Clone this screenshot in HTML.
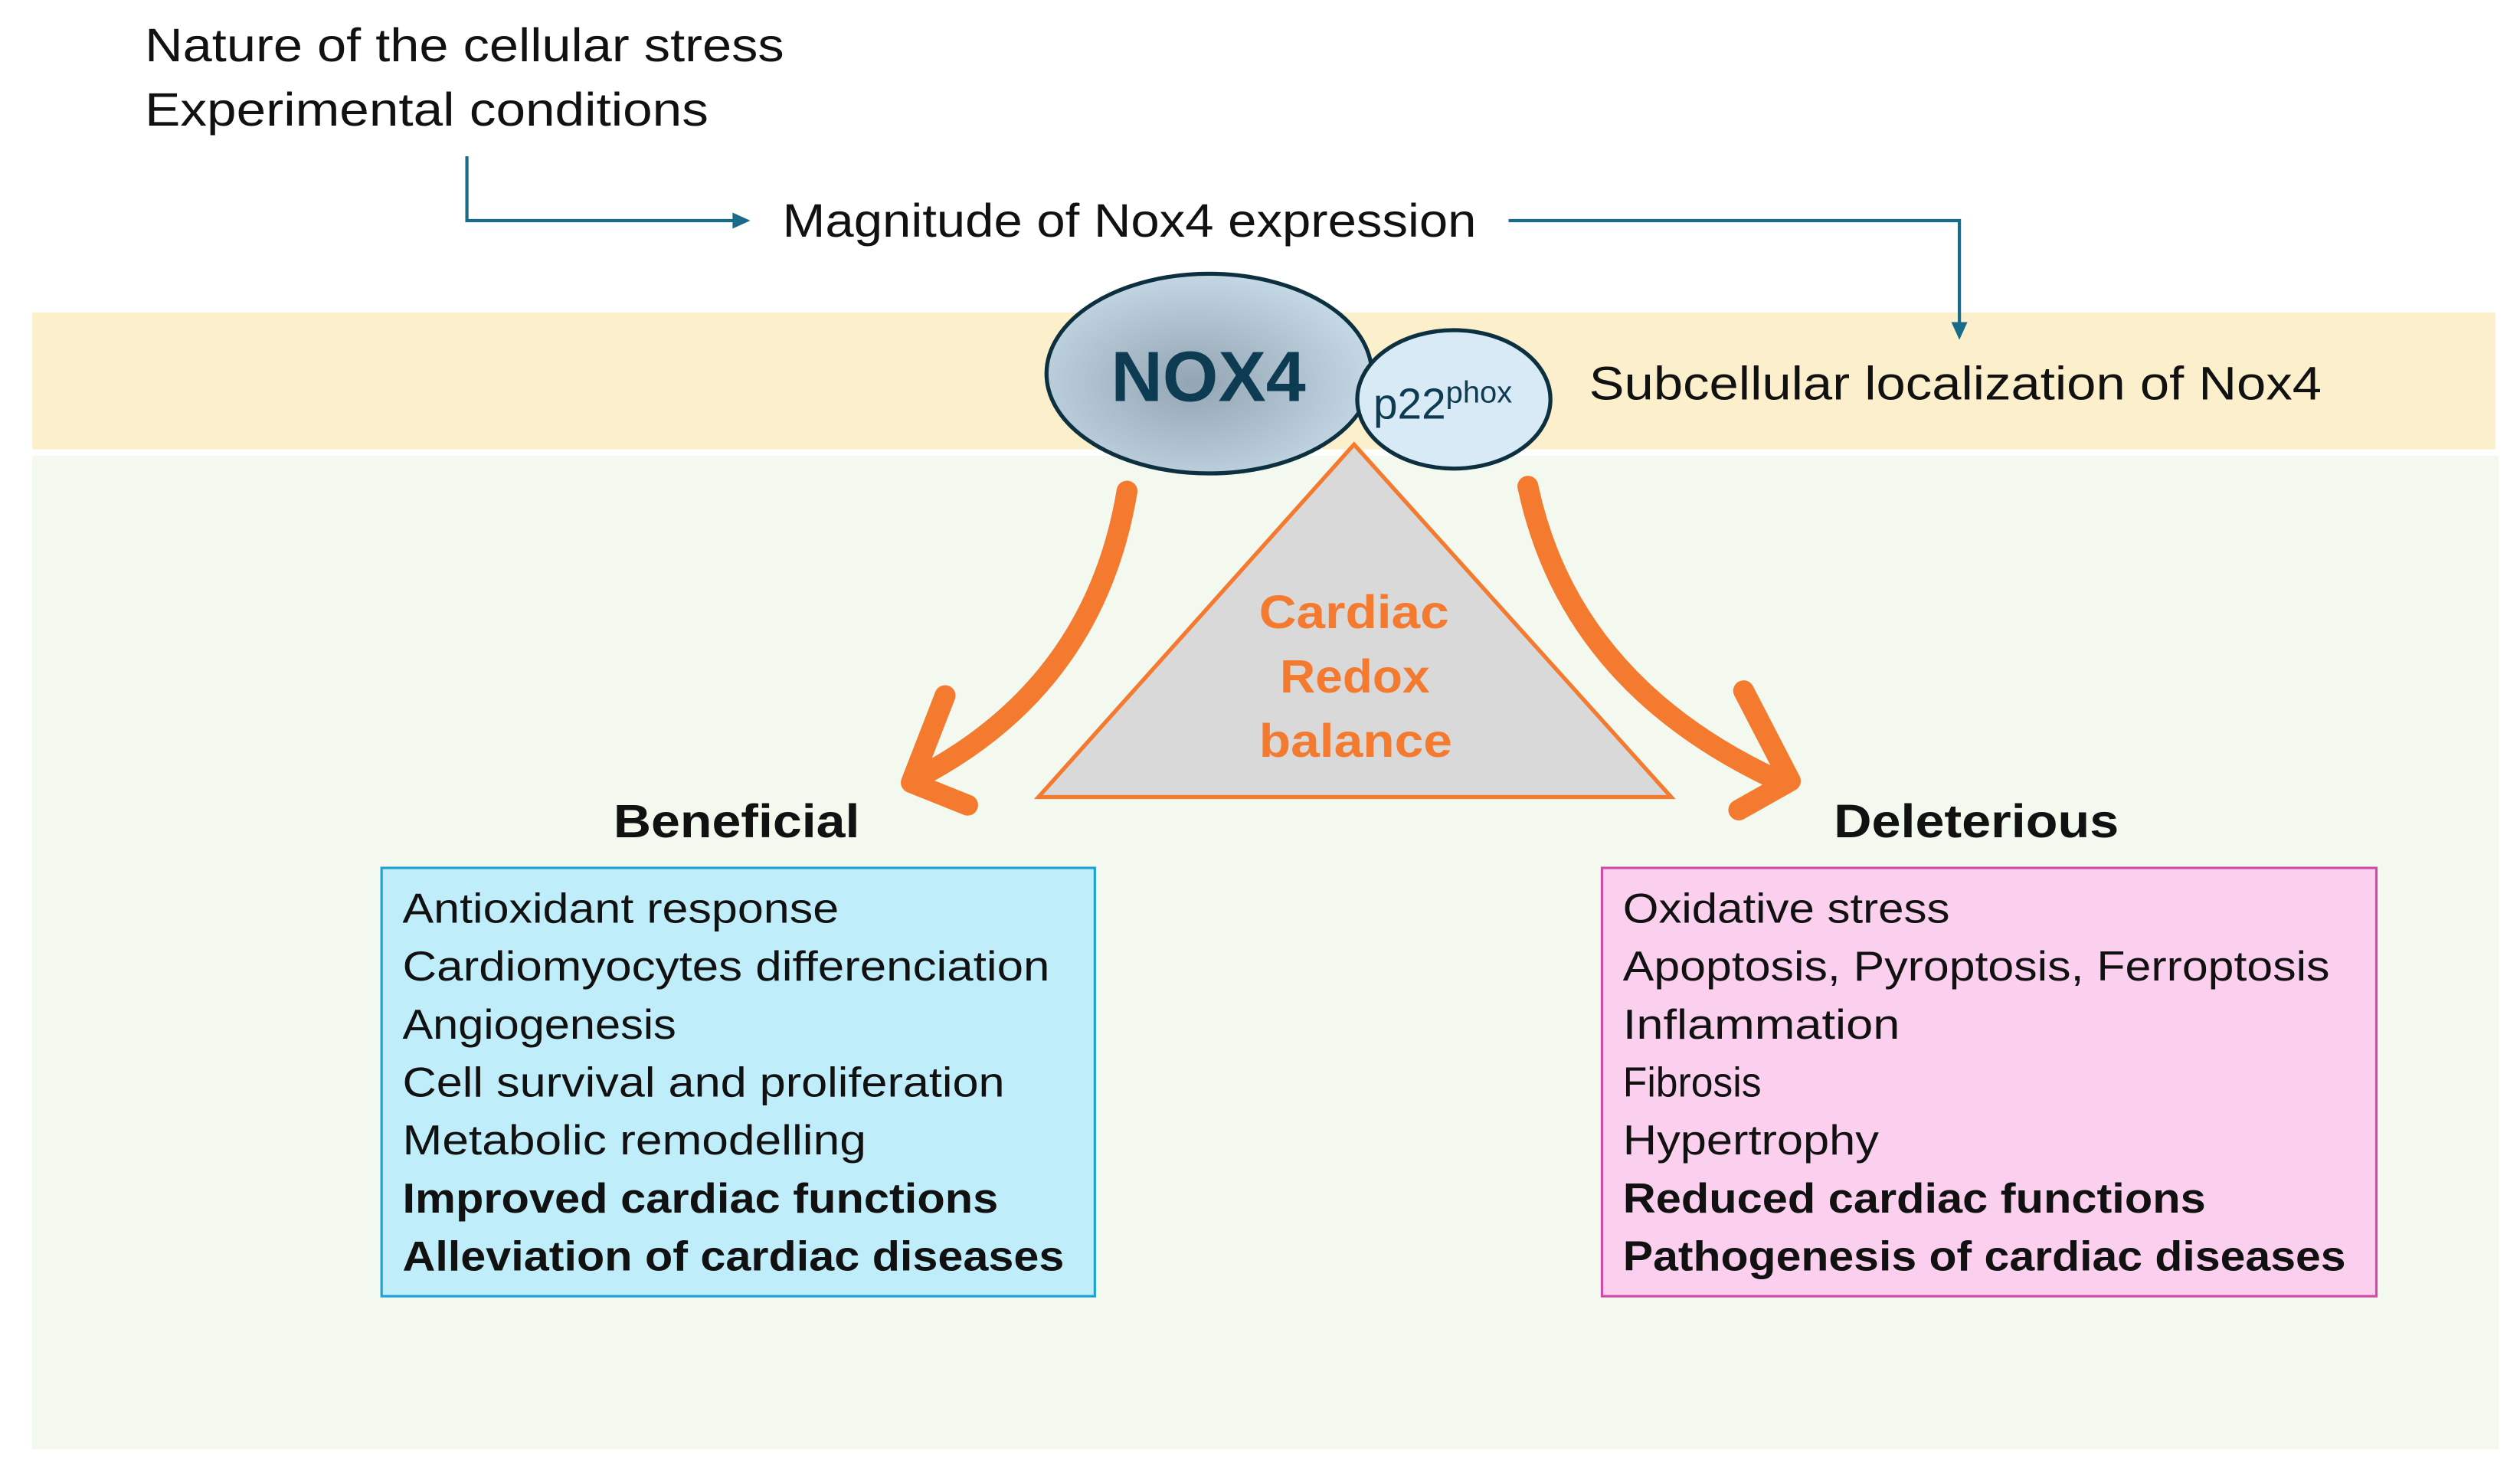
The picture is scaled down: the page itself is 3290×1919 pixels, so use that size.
<!DOCTYPE html>
<html><head><meta charset="utf-8"><style>
html,body{margin:0;padding:0;background:#fff;}
svg{display:block;}
text{font-family:"Liberation Sans",sans-serif;}
</style></head><body>
<svg width="3290" height="1919" viewBox="0 0 1565.2 912.9" xmlns="http://www.w3.org/2000/svg">
<defs>
<radialGradient id="g1" cx="0.45" cy="0.55" r="0.6">
<stop offset="0" stop-color="#93a5b3"/><stop offset="1" stop-color="#c8dbe8"/>
</radialGradient>
</defs>
<rect x="20" y="194" width="1530" height="85" fill="#fcefcc"/>
<rect x="20" y="283" width="1532" height="617" fill="#f3f9ee"/>
<g lengthAdjust="spacingAndGlyphs">
<text x="90" y="38" font-size="29" fill="#111" textLength="397" lengthAdjust="spacingAndGlyphs">Nature of the cellular stress</text>
<text x="90" y="78" font-size="29" fill="#111" textLength="350" lengthAdjust="spacingAndGlyphs">Experimental conditions</text>
</g>
<polyline points="290,97 290,137 458,137" fill="none" stroke="#1a6a8a" stroke-width="2"/>
<polygon points="466,137 455,132 455,142" fill="#1a6a8a"/>
<text x="486" y="147" font-size="29" fill="#111" textLength="431" lengthAdjust="spacingAndGlyphs">Magnitude of Nox4 expression</text>
<polyline points="937,137 1217,137 1217,203" fill="none" stroke="#1a6a8a" stroke-width="2"/>
<polygon points="1217,211 1212,200 1222,200" fill="#1a6a8a"/>
<path d="M949,302 Q975,425 1105,485" fill="none" stroke="#f47a2f" stroke-width="13" stroke-linecap="round"/>
<polyline points="1083,429 1112,485 1080,503" fill="none" stroke="#f47a2f" stroke-width="13" stroke-linecap="round" stroke-linejoin="round"/>
<path d="M700,305 Q680,425 572,482" fill="none" stroke="#f47a2f" stroke-width="13" stroke-linecap="round"/>
<polyline points="587,432 566,486 601,500" fill="none" stroke="#f47a2f" stroke-width="13" stroke-linecap="round" stroke-linejoin="round"/>
<polygon points="841,276 645,495 1038,495" fill="#d9d9d9" stroke="#f47a2f" stroke-width="2.5"/>
<g font-size="29" font-weight="bold" fill="#f47a2f">
<text x="782" y="390" textLength="118" lengthAdjust="spacingAndGlyphs">Cardiac</text>
<text x="795" y="430" textLength="93" lengthAdjust="spacingAndGlyphs">Redox</text>
<text x="782" y="470" textLength="120" lengthAdjust="spacingAndGlyphs">balance</text>
</g>
<ellipse cx="751" cy="232" rx="101" ry="62" fill="url(#g1)" stroke="#0d3040" stroke-width="2.5"/>
<text x="690" y="249" font-size="44" font-weight="bold" fill="#0d3b52" textLength="121" lengthAdjust="spacingAndGlyphs">NOX4</text>
<ellipse cx="903" cy="248" rx="60" ry="43" fill="#d9eaf7" stroke="#0d3040" stroke-width="2.5"/>
<text x="853" y="260" font-size="27" fill="#0d3b52">p22<tspan font-size="19" dy="-10">phox</tspan></text>
<text x="987" y="248" font-size="29" fill="#111" textLength="455" lengthAdjust="spacingAndGlyphs">Subcellular localization of Nox4</text>
<text x="381" y="520" font-size="29" font-weight="bold" fill="#111" textLength="153" lengthAdjust="spacingAndGlyphs">Beneficial</text>
<text x="1139" y="520" font-size="29" font-weight="bold" fill="#111" textLength="177" lengthAdjust="spacingAndGlyphs">Deleterious</text>
<rect x="237" y="539" width="443" height="266" fill="#bfeefa" stroke="#1aa3d4" stroke-width="1.5"/>
<g font-size="26" fill="#111">
<text x="250" y="573" textLength="271" lengthAdjust="spacingAndGlyphs">Antioxidant response</text>
<text x="250" y="609" textLength="402" lengthAdjust="spacingAndGlyphs">Cardiomyocytes differenciation</text>
<text x="250" y="645" textLength="170" lengthAdjust="spacingAndGlyphs">Angiogenesis</text>
<text x="250" y="681" textLength="374" lengthAdjust="spacingAndGlyphs">Cell survival and proliferation</text>
<text x="250" y="717" textLength="288" lengthAdjust="spacingAndGlyphs">Metabolic remodelling</text>
<text x="250" y="753" font-weight="bold" textLength="370" lengthAdjust="spacingAndGlyphs">Improved cardiac functions</text>
<text x="250" y="789" font-weight="bold" textLength="411" lengthAdjust="spacingAndGlyphs">Alleviation of cardiac diseases</text>
</g>
<rect x="995" y="539" width="481" height="266" fill="#fbd0ee" stroke="#d04aa8" stroke-width="1.5"/>
<g font-size="26" fill="#111">
<text x="1008" y="573" textLength="203" lengthAdjust="spacingAndGlyphs">Oxidative stress</text>
<text x="1008" y="609" textLength="439" lengthAdjust="spacingAndGlyphs">Apoptosis, Pyroptosis, Ferroptosis</text>
<text x="1008" y="645" textLength="172" lengthAdjust="spacingAndGlyphs">Inflammation</text>
<text x="1008" y="681" textLength="86" lengthAdjust="spacingAndGlyphs">Fibrosis</text>
<text x="1008" y="717" textLength="159" lengthAdjust="spacingAndGlyphs">Hypertrophy</text>
<text x="1008" y="753" font-weight="bold" textLength="362" lengthAdjust="spacingAndGlyphs">Reduced cardiac functions</text>
<text x="1008" y="789" font-weight="bold" textLength="449" lengthAdjust="spacingAndGlyphs">Pathogenesis of cardiac diseases</text>
</g>
</svg>
</body></html>
